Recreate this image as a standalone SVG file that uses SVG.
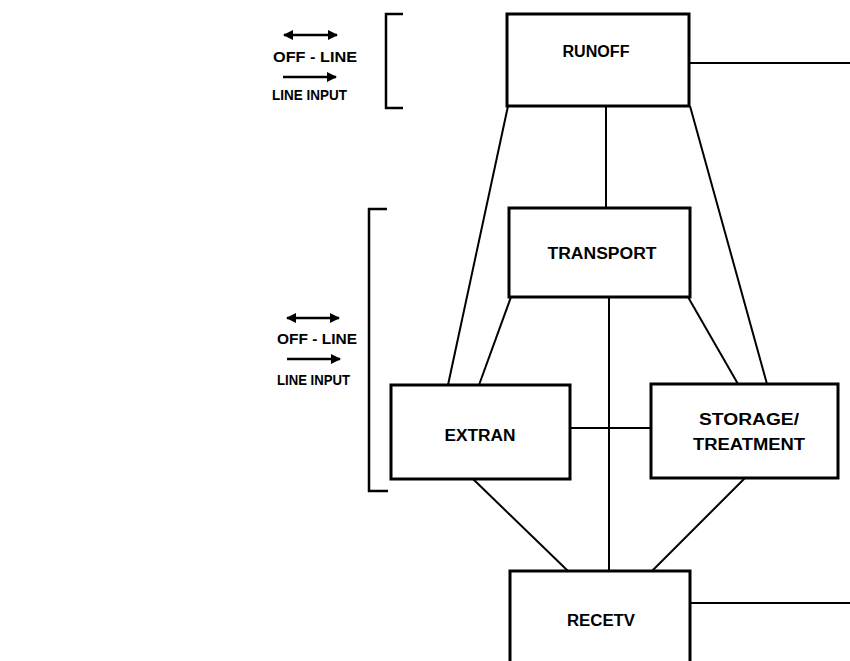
<svg xmlns="http://www.w3.org/2000/svg" width="850" height="661" viewBox="0 0 850 661">
<defs>
<marker id="ah" viewBox="0 0 10 10" refX="9" refY="5" markerWidth="4.4" markerHeight="4" orient="auto-start-reverse" markerUnits="strokeWidth">
<path d="M0,0 L10,5 L0,10 z" fill="#000"/>
</marker>
<style>
.box{fill:#fff;stroke:#000;stroke-width:3}
.ln{fill:none;stroke:#000;stroke-width:2}
.br{fill:none;stroke:#000;stroke-width:2.5}
.t{font-family:"Liberation Sans",Arial,sans-serif;font-weight:bold;font-size:16px;fill:#000;text-anchor:middle}
.lab{font-family:"Liberation Sans",Arial,sans-serif;font-weight:bold;font-size:15px;fill:#000}
.arr{stroke:#000;stroke-width:2.5;fill:none}
</style>
</defs>
<rect width="850" height="661" fill="#fff"/>
<g id="connectors">
<line class="ln" x1="689" y1="63" x2="850" y2="63"/>
<line class="ln" x1="508" y1="106" x2="448" y2="385"/>
<line class="ln" x1="606" y1="106" x2="606" y2="208"/>
<line class="ln" x1="690" y1="106" x2="767" y2="384"/>
<line class="ln" x1="511" y1="297" x2="479" y2="385"/>
<line class="ln" x1="688" y1="297" x2="738" y2="384"/>
<line class="ln" x1="609" y1="297" x2="609" y2="571"/>
<line class="ln" x1="570" y1="428" x2="651" y2="428"/>
<line class="ln" x1="473" y1="479" x2="568" y2="571"/>
<line class="ln" x1="745" y1="478" x2="652" y2="571"/>
<line class="ln" x1="690" y1="603" x2="850" y2="603"/>
</g>
<g id="runoff">
<rect class="box" x="507" y="14" width="182" height="92"/>
<text class="t" x="596" y="57" textLength="67" lengthAdjust="spacingAndGlyphs">RUNOFF</text>
</g>
<g id="transport">
<rect class="box" x="509" y="208" width="181" height="89"/>
<text class="t" x="602" y="259" textLength="109" lengthAdjust="spacingAndGlyphs">TRANSPORT</text>
</g>
<g id="extran">
<rect class="box" x="391" y="385" width="179" height="94"/>
<text class="t" x="480" y="441" textLength="71" lengthAdjust="spacingAndGlyphs">EXTRAN</text>
</g>
<g id="storage">
<rect class="box" x="651" y="384" width="187" height="94"/>
<text class="t" x="749" y="425" textLength="100" lengthAdjust="spacingAndGlyphs">STORAGE/</text>
<text class="t" x="749" y="450" textLength="112" lengthAdjust="spacingAndGlyphs">TREATMENT</text>
</g>
<g id="recetv">
<rect class="box" x="510" y="571" width="180" height="100"/>
<text class="t" x="601" y="626" textLength="68" lengthAdjust="spacingAndGlyphs">RECETV</text>
</g>
<g id="legend-top">
<path class="br" d="M403,14 H386 V108 H403"/>
<line class="arr" x1="284" y1="35" x2="337" y2="35" marker-start="url(#ah)" marker-end="url(#ah)"/>
<text class="lab" x="273" y="62" textLength="84" lengthAdjust="spacingAndGlyphs">OFF - LINE</text>
<line class="arr" x1="283" y1="77" x2="336" y2="77" marker-end="url(#ah)"/>
<text class="lab" x="272" y="100" textLength="75" lengthAdjust="spacingAndGlyphs">LINE INPUT</text>
</g>
<g id="legend-mid">
<path class="br" d="M387,209 H369 V491 H388"/>
<line class="arr" x1="287" y1="318" x2="339" y2="318" marker-start="url(#ah)" marker-end="url(#ah)"/>
<text class="lab" x="277" y="344" textLength="80" lengthAdjust="spacingAndGlyphs">OFF - LINE</text>
<line class="arr" x1="287" y1="359" x2="340" y2="359" marker-end="url(#ah)"/>
<text class="lab" x="277" y="385" textLength="73" lengthAdjust="spacingAndGlyphs">LINE INPUT</text>
</g>
</svg>
